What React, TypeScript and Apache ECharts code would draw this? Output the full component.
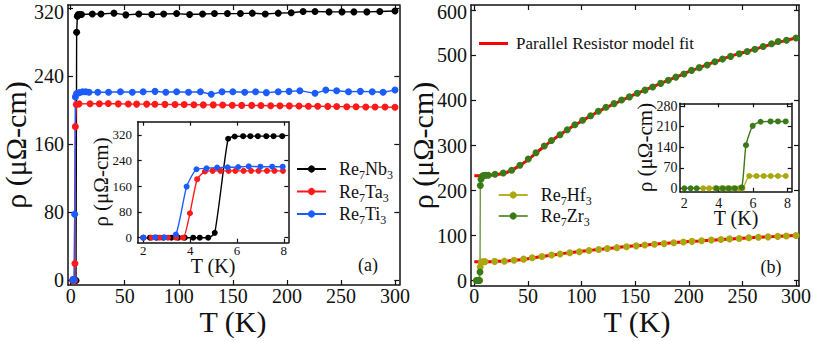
import React, { useEffect, useRef } from "react";
import * as echarts from "echarts";

const FONT = "Liberation Serif";
const FONT_STACK = "'Liberation Serif', 'Times New Roman', Times, serif";
const INK = "#111";

// ---------- Panel (a): main ----------
const nb3T = [2, 3, 4, 4.9, 5.5, 6.2, 7, 8, 10, 20, 28, 40, 51, 63, 75, 86, 98, 110, 122, 133, 145, 157, 168, 180, 192, 204, 215, 226, 239, 251, 262, 274, 286, 300];
const nb3Rho = [0, 0, 0, 0, 292, 311, 313, 313, 313, 313.5, 313.5, 314.5, 312.5, 313.5, 313, 313.5, 314, 313, 313.5, 314, 314, 314, 314.5, 313.5, 314.5, 315, 316.5, 316.5, 316, 316, 316, 316, 316.5, 317];
const ta3T = [2, 2.8, 3.5, 3.9, 4.3, 5.2, 7.7, 17.9, 26.5, 34.8, 44, 53.3, 61, 70.3, 77.9, 87.2, 96.5, 105, 114, 122.7, 131.9, 140.6, 149.5, 158.2, 167.4, 176, 185, 193.6, 202.3, 211.2, 219.9, 228.5, 237.8, 246.1, 255.4, 264, 273, 281.6, 290.8, 300];
const ta3Rho = [0, 0, 0, 20, 181, 207, 207.8, 208, 208, 208.2, 207.8, 207.6, 207.5, 207.5, 207.3, 207.2, 207, 207, 206.8, 206.6, 206.6, 206.4, 206.2, 206, 206, 205.8, 205.6, 205.5, 205.4, 205.2, 205, 205, 204.8, 204.6, 204.5, 204.3, 204.2, 204, 204, 203.8];
const ti3T = [2, 2.5, 3, 3.7, 4.3, 5.5, 8, 11, 14, 17, 25, 35, 46, 57, 67, 78, 88, 98, 109, 120, 130, 140, 150, 161, 171, 181, 192, 202, 212, 226, 236, 246, 257, 268, 279, 289, 300];
const ti3Rho = [1, 1, 1, 78, 216, 220, 221, 222, 222, 221.5, 221.5, 221.5, 222, 221.5, 222, 222.5, 221.5, 222, 221.5, 222, 219, 222, 222, 221.5, 222, 221, 222, 222.5, 223.3, 220.2, 224, 223.3, 222, 222.5, 222, 221.4, 224];

// ---------- Panel (a): inset ----------
const nb3InT = [2.0, 2.28, 2.57, 2.85, 3.2, 3.49, 3.77, 4.13, 4.41, 4.77, 5.05, 5.62, 5.9, 6.26, 6.57, 6.89, 7.25, 7.56, 7.93];
const nb3InRho = [0, 0, 0, 0, 0, 0, 0, 0, 0, 0, 15, 308, 315, 316, 316, 316, 316, 316, 316];
const ta3InT = [2.0, 2.35, 2.7, 3.05, 3.4, 3.7, 3.99, 4.3, 4.63, 4.96, 5.29, 5.64, 5.93, 6.28, 6.6, 6.92, 7.28, 7.6, 7.96];
const ta3InRho = [0, 0, 0, 0, 0, 0, 76, 182, 206, 208, 208, 208, 208, 208, 208, 208, 208, 208, 208];
const ti3InT = [2.0, 2.5, 2.9, 3.39, 3.85, 4.27, 4.7, 5.15, 5.6, 6.05, 6.5, 7.0, 7.5, 7.95];
const ti3InRho = [0, 1, 1, 10, 159, 213, 216, 218, 219, 220, 222, 221, 221, 221];

// ---------- Panel (b): main ----------
const hf3T = [2, 3, 4, 5, 5.5, 6.5, 8, 10, 19, 28, 37, 46, 54, 63, 72, 80, 89, 98, 107, 116, 124, 133, 142, 151, 159, 168, 177, 186, 195, 203, 212, 221, 230, 238, 247, 256, 265, 274, 283, 291, 300];
const hf3Rho = [0, 0, 0, 0, 30, 41, 41.5, 42, 42.5, 43, 45, 47.5, 50.5, 53.5, 56.5, 59, 61.5, 64, 66.5, 69, 71, 73, 75, 77, 79, 80.5, 82, 84, 85.5, 87, 88.5, 90, 91, 92.5, 93.5, 95, 96, 97, 98, 99, 100];
const zr3T = [2, 3, 4, 4.6, 5.3, 5.6, 6.2, 7.2, 8.4, 10.5, 13, 19.3, 27, 34.8, 42.5, 50.3, 57.5, 65.3, 72, 79.9, 86.7, 93.8, 101, 108.5, 115.7, 122.8, 130.3, 137.4, 144.6, 152, 159.2, 166.3, 173.8, 180.9, 188, 195.5, 202.6, 209.8, 217.2, 224.4, 231.5, 239, 247, 254.5, 261.7, 269.4, 277.2, 283.4, 291.2, 300];
const zr3Rho = [0, 0, 0, 0, 19, 211, 225, 231, 233, 234, 234, 236, 239, 245, 256, 270, 284, 299, 311, 324, 335, 346, 356, 366, 376, 385, 393, 401, 408, 416, 423, 430, 438, 445, 452, 459, 467, 473, 479, 486, 492, 498, 504, 509, 514, 520, 526, 531, 534, 539];
const fitT = [0, 10, 20, 30, 40, 50, 60, 70, 80, 90, 100, 110, 120, 130, 140, 150, 160, 170, 180, 190, 200, 210, 220, 230, 240, 250, 260, 270, 280, 290, 300];
const fitZr3 = [233, 233.5, 235, 240, 252, 268, 288, 307, 324, 340, 354, 368, 381, 392, 403, 414, 424, 434, 444, 454, 464, 473, 482, 491, 499, 506, 513, 520, 527, 533, 539];
const fitHf3 = [41.5, 41.8, 42.5, 43.5, 45.5, 48.5, 52, 55.5, 59, 62, 64.8, 67.5, 70, 72.5, 74.8, 77, 79, 81, 83, 84.8, 86.5, 88, 89.5, 91, 92.5, 94, 95.3, 96.6, 97.8, 99, 100];

// ---------- Panel (b): inset ----------
const zr3InT = [2.0, 2.37, 2.72, 3.88, 4.25, 4.6, 4.95, 5.34, 5.59, 5.98, 6.44, 7.02, 7.45, 7.9];
const zr3InRho = [0, 0, 0, 0, 0, 0, 0, 3, 147, 213, 227, 228, 228, 228];
const hf3InT = [3.1, 3.45, 3.8, 4.15, 4.5, 4.85, 5.2, 5.38, 5.78, 6.2, 6.62, 7.03, 7.45, 7.9];
const hf3InRho = [0, 0, 0, 0, 0, 0, 0, 0, 42, 42, 42, 42, 42, 42];

// ---------- Tick values ----------
const xTicksMain = [0, 50, 100, 150, 200, 250, 300];
const yTicksA = [0, 80, 160, 240, 320];
const yTicksB = [0, 100, 200, 300, 400, 500, 600];
const xTicksInset = [2, 4, 6, 8];
const yTicksInsetA = [0, 80, 160, 240, 320];
const yTicksInsetB = [0, 70, 140, 210, 280];

const RHO_NAME = "ρ (μΩ-cm)";
const T_NAME = "T (K)";

const BLACK = "#000000";
const RED = "#ff1a1a";
const BLUE = "#1a5cff";
const HF = "#aba70f";
const HF_LINE = "#b5b12a";
const ZR = "#3b7a19";
const ZR_LINE = "#6a9a44";
const FIT = "#ff0000";

const zip = (t: number[], v: number[]) => t.map((x, i) => [x, v[i]]);

type AxOpt = { grid: number; min: number; max: number; ticks: number[]; pos: string; tickLen?: number };

// axis line + inside ticks (box frame, mirrored on top/right); labels drawn as serif texts below
function mkAxis(o: AxOpt) {
  return {
    type: "value",
    gridIndex: o.grid,
    min: o.min,
    max: o.max,
    position: o.pos,
    axisLine: { show: true, onZero: false, lineStyle: { color: INK, width: 1.5 } },
    axisTick: {
      show: true,
      inside: true,
      length: o.tickLen ?? 5,
      customValues: o.ticks,
      lineStyle: { color: INK, width: 1.2 },
    },
    splitLine: { show: false },
    axisLabel: { show: false },
  };
}

function lineSeries(name: string, data: number[][], xi: number, yi: number, color: string, lineColor: string, size: number, smooth: number | boolean = false) {
  return {
    type: "line",
    name,
    data,
    xAxisIndex: xi,
    yAxisIndex: yi,
    symbol: "circle",
    symbolSize: size,
    smooth,
    itemStyle: { color },
    lineStyle: { color: lineColor, width: 1.4 },
    emphasis: { disabled: true },
  };
}

const richText = {
  g: { width: 8, fontSize: 18, fontFamily: FONT },
  a: { fontSize: 18, fontFamily: FONT, color: INK, lineHeight: 24 },
  s: { fontSize: 12, fontFamily: FONT, color: INK, lineHeight: 12, verticalAlign: "bottom" },
};
const subFormatter = (name: string) =>
  "{g| }" +
  name
    .split(/(\d)/)
    .filter((p) => p.length > 0)
    .map((p) => (/\d/.test(p) ? `{s|${p}}` : `{a|${p}}`))
    .join("");

export default function App() {
  const ref = useRef<HTMLDivElement>(null);
  useEffect(() => {
    if (!ref.current) return;
    const chart = echarts.init(ref.current, null, { renderer: "svg" });
    const option: any = {
      animation: false,
      backgroundColor: "#ffffff",
      grid: [
        { left: 68, top: 5, width: 331.3, height: 280 },
        { left: 137.7, top: 121.7, width: 150.6, height: 121, show: true, backgroundColor: "#fff", borderWidth: 0 },
        { left: 471, top: 5, width: 328, height: 281 },
        { left: 680, top: 103.3, width: 111.7, height: 88.4, show: true, backgroundColor: "#fff", borderWidth: 0 },
      ],
      xAxis: [
        mkAxis({ grid: 0, min: -2.5, max: 304, ticks: xTicksMain, pos: "bottom" }),
        mkAxis({ grid: 0, min: -2.5, max: 304, ticks: xTicksMain, pos: "top" }),
        mkAxis({ grid: 1, min: 1.76, max: 8.19, ticks: xTicksInset, pos: "bottom", tickLen: 4 }),
        mkAxis({ grid: 1, min: 1.76, max: 8.19, ticks: xTicksInset, pos: "top", tickLen: 4 }),
        mkAxis({ grid: 2, min: -3.1, max: 302.8, ticks: xTicksMain, pos: "bottom" }),
        mkAxis({ grid: 2, min: -3.1, max: 302.8, ticks: xTicksMain, pos: "top" }),
        mkAxis({ grid: 3, min: 1.75, max: 8.25, ticks: xTicksInset, pos: "bottom", tickLen: 4 }),
        mkAxis({ grid: 3, min: 1.75, max: 8.25, ticks: xTicksInset, pos: "top", tickLen: 4 }),
      ],
      yAxis: [
        mkAxis({ grid: 0, min: -5.3, max: 324.1, ticks: yTicksA, pos: "left" }),
        mkAxis({ grid: 0, min: -5.3, max: 324.1, ticks: yTicksA, pos: "right" }),
        mkAxis({ grid: 1, min: -15.6, max: 361, ticks: yTicksInsetA, pos: "left", tickLen: 4 }),
        mkAxis({ grid: 1, min: -15.6, max: 361, ticks: yTicksInsetA, pos: "right", tickLen: 4 }),
        mkAxis({ grid: 2, min: -12.2, max: 612.2, ticks: yTicksB, pos: "left" }),
        mkAxis({ grid: 2, min: -12.2, max: 612.2, ticks: yTicksB, pos: "right" }),
        mkAxis({ grid: 3, min: -11.6, max: 290, ticks: yTicksInsetB, pos: "left", tickLen: 4 }),
        mkAxis({ grid: 3, min: -11.6, max: 290, ticks: yTicksInsetB, pos: "right", tickLen: 4 }),
      ],
      legend: [
        {
          left: 296, top: 160, orient: "vertical", padding: 0, itemGap: 1.5,
          itemWidth: 29, itemHeight: 9, selectedMode: false,
          data: ["Re7Nb3", "Re7Ta3", "Re7Ti3"],
          formatter: subFormatter,
          textStyle: { rich: richText },
        },
        {
          left: 497.7, top: 186, orient: "vertical", padding: 0, itemGap: 0,
          itemWidth: 29, itemHeight: 9, selectedMode: false,
          data: ["Re7Hf3", "Re7Zr3"],
          formatter: subFormatter,
          textStyle: { rich: richText },
        },
        {
          left: 479, top: 35, orient: "vertical", padding: 0,
          itemWidth: 29, itemHeight: 3, selectedMode: false,
          data: [{ name: "Parallel Resistor model fit", icon: "rect" }],
          formatter: (n: string) => "{g| }{a|" + n + "}",
          textStyle: { rich: { g: { width: 3, fontSize: 17, fontFamily: FONT }, a: { fontSize: 17, fontFamily: FONT, color: INK, lineHeight: 22 } } },
        },
      ],
      series: [
        lineSeries("Re7Nb3", zip(nb3T, nb3Rho), 0, 0, BLACK, BLACK, 7),
        lineSeries("Re7Ta3", zip(ta3T, ta3Rho), 0, 0, RED, RED, 7),
        lineSeries("Re7Ti3", zip(ti3T, ti3Rho), 0, 0, BLUE, BLUE, 7),
        lineSeries("Re7Nb3", zip(nb3InT, nb3InRho), 2, 2, BLACK, BLACK, 6, 0.2),
        lineSeries("Re7Ta3", zip(ta3InT, ta3InRho), 2, 2, RED, RED, 6, 0.2),
        lineSeries("Re7Ti3", zip(ti3InT, ti3InRho), 2, 2, BLUE, BLUE, 6, 0.2),
        lineSeries("Re7Hf3", zip(hf3T, hf3Rho), 4, 4, HF, HF_LINE, 7),
        lineSeries("Re7Zr3", zip(zr3T, zr3Rho), 4, 4, ZR, ZR_LINE, 7),
        {
          type: "line", name: "Parallel Resistor model fit", data: zip(fitT, fitHf3),
          xAxisIndex: 4, yAxisIndex: 4, symbol: "none", smooth: 0.4,
          itemStyle: { color: FIT }, lineStyle: { color: FIT, width: 3 }, z: 3,
        },
        {
          type: "line", name: "Parallel Resistor model fit", data: zip(fitT, fitZr3),
          xAxisIndex: 4, yAxisIndex: 4, symbol: "none", smooth: 0.4,
          itemStyle: { color: FIT }, lineStyle: { color: FIT, width: 3 }, z: 3,
        },
        lineSeries("Re7Hf3", zip(hf3InT, hf3InRho), 6, 6, HF, HF_LINE, 6, 0.2),
        lineSeries("Re7Zr3", zip(zr3InT, zr3InRho), 6, 6, ZR, ZR, 6, 0.2),
      ],
    };
    chart.setOption(option);

    // Tick labels and axis titles, placed through the axes' own scales.
    // A full CSS font shorthand is given so the serif family is kept.
    const txt = (text: string, x: number, y: number, size: number, align: string, rotation = 0) => ({
      type: "text",
      x,
      y,
      rotation,
      silent: true,
      z: 100,
      style: { text, font: `${size}px ${FONT_STACK}`, fill: INK, align, verticalAlign: "middle" },
    });
    const els: any[] = [];
    const xSpecs = [
      { xi: 0, ticks: xTicksMain, y: 296, size: 20, ref: 0 },
      { xi: 2, ticks: xTicksInset, y: 250.5, size: 13, ref: 0 },
      { xi: 4, ticks: xTicksMain, y: 296, size: 20, ref: 0 },
      { xi: 6, ticks: xTicksInset, y: 203.5, size: 14, ref: 0 },
    ];
    xSpecs.forEach((s) => {
      s.ticks.forEach((v) => {
        const p = chart.convertToPixel({ xAxisIndex: s.xi, yAxisIndex: s.xi } as any, [v, s.ref]) as any;
        if (p) els.push(txt(String(v), p[0], s.y, s.size, "center"));
      });
    });
    const ySpecs = [
      { yi: 0, ticks: yTicksA, x: 64, size: 20, ref: 0, top: 11.5 },
      { yi: 2, ticks: yTicksInsetA, x: 132, size: 13, ref: 2, top: 0 },
      { yi: 4, ticks: yTicksB, x: 467, size: 20, ref: 0, top: 11.5 },
      { yi: 6, ticks: yTicksInsetB, x: 677.5, size: 14, ref: 2, top: 0 },
    ];
    ySpecs.forEach((s) => {
      s.ticks.forEach((v) => {
        const p = chart.convertToPixel({ xAxisIndex: s.yi, yAxisIndex: s.yi } as any, [s.ref, v]) as any;
        if (p) els.push(txt(String(v), s.x, Math.max(p[1], s.top), s.size, "right"));
      });
    });
    els.push(txt(T_NAME, 233, 321, 30, "center"));
    els.push(txt(T_NAME, 637, 321, 30, "center"));
    els.push(txt(T_NAME, 213, 266, 20, "center"));
    els.push(txt(T_NAME, 736, 218, 20, "center"));
    els.push(txt(RHO_NAME, 15.5, 145, 30, "center", Math.PI / 2));
    els.push(txt(RHO_NAME, 422, 145.5, 30, "center", Math.PI / 2));
    els.push(txt(RHO_NAME, 101, 182, 21, "center", Math.PI / 2));
    els.push(txt(RHO_NAME, 645, 147.5, 21, "center", Math.PI / 2));
    els.push(txt("(a)", 368, 265, 18, "center"));
    els.push(txt("(b)", 771, 266.5, 18, "center"));
    chart.setOption({ graphic: els });

    return () => chart.dispose();
  }, []);
  return <div ref={ref} style={{ width: 814, height: 341, position: "absolute", left: 0, top: 0 }} />;
}
